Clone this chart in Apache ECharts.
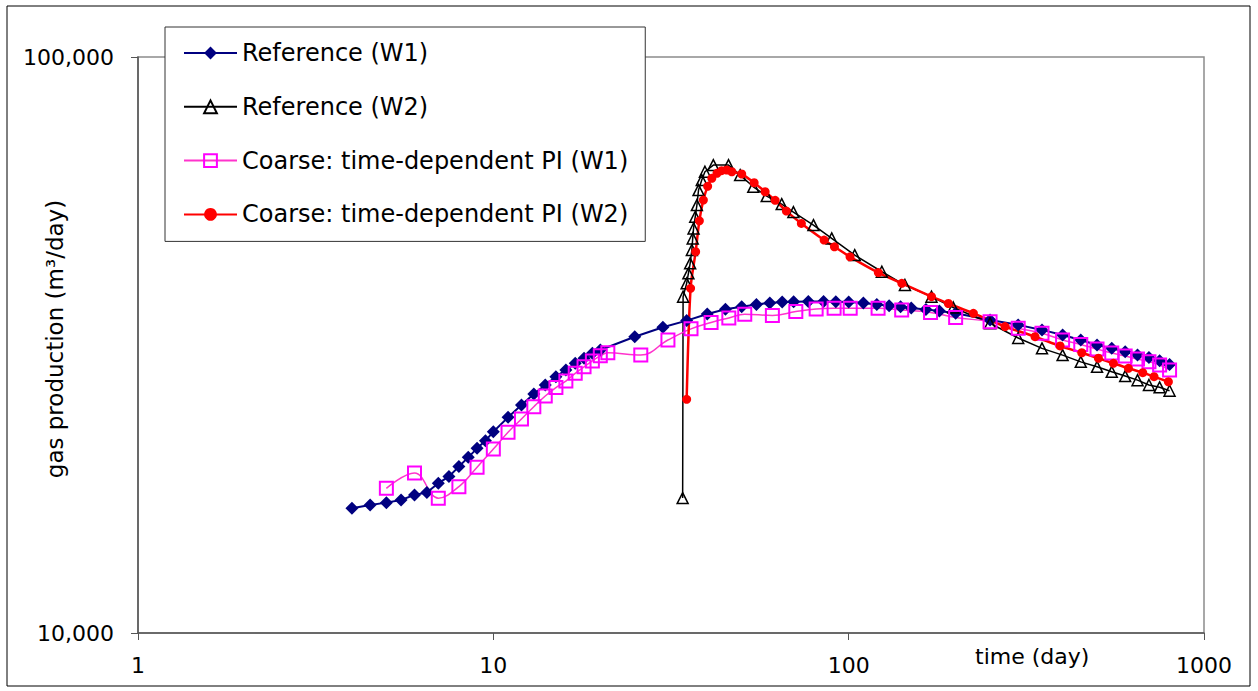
<!DOCTYPE html>
<html><head><meta charset="utf-8">
<script src="https://cdn.jsdelivr.net/npm/echarts@6/dist/echarts.min.js"></script>
<style>html,body{margin:0;padding:0;background:#fff}#c{width:1258px;height:691px}</style>
</head><body><div id="c"></div>
<script>
// ---- data (time in days, gas production in m3/day) ----
const seriesNames = ['Reference (W1)', 'Reference (W2)', 'Coarse: time-dependent PI (W1)', 'Coarse: time-dependent PI (W2)'];

const refW1Time = [4,4.5,5,5.5,6,6.5,7,7.5,8,8.5,9,9.5,10,11,12,13,14,15,16,17,18,19,20,25,30,35,40,45,50,55,60,65,70,77,85,92,100,110,120,130,140,150,165,180,200,250,300,350,400,450,500,550,600,650,700,750,800];
const refW1Gas  = [16460,16680,16840,17020,17370,17530,18200,18690,19450,20180,20920,21570,22350,23680,24870,26000,26950,27860,28620,29390,29990,30600,31000,32690,33950,34860,35800,36470,36850,37180,37410,37560,37600,37630,37630,37600,37560,37420,37180,37000,36850,36670,36450,36220,35900,34960,34270,33590,32920,32260,31620,31200,30780,30370,30090,29680,29260];

const refW2Time = [34.1,34.2,35.0,35.4,35.8,36.2,36.4,36.6,37.0,37.4,37.8,38.6,39.4,41.6,45.9,49.5,53.9,58.8,64.8,69.9,79.6,89.6,104,124,144,171,197,250,300,350,400,450,500,550,600,650,700,750,800];
const refW2Gas  = [17150,38360,40460,42110,43830,46230,48420,50400,52790,55320,58740,61140,63200,64910,64910,62370,59520,57360,55540,53800,51070,48420,45300,42380,40190,38360,36740,34500,32520,31200,30370,29560,28980,28410,27930,27480,26950,26700,26340];

const coarseW1Time = [5,6,7,8,9,10,11,12,13,14,15,16,17,18,19,20,21,26,31,36,41,46,51,61,71,81,91,101,121,141,170,200,250,300,350,400,450,500,550,600,650,700,750,800];
const coarseW1Gas  = [17830,18950,17140,17950,19400,20860,22310,23530,24710,25790,26670,27380,28240,28980,29670,30280,30650,30370,32260,33730,34610,35240,35760,35590,36140,36520,36620,36620,36620,36380,36020,35300,34720,33810,33140,32260,31690,31110,30620,30250,29890,29570,29190,28620];

const coarseW2Time = [35.0,35.9,37.1,38.0,39.0,40.1,41.2,42.6,43.9,45.4,46.9,50.0,54.2,58.2,62.1,66.8,73.6,85.3,91.2,100.9,121.2,141.1,171.1,190.8,224.4,275.5,334.6,393.6,452.9,504.5,555.9,612.8,672.5,723.5,793.9];
const coarseW2Gas  = [25450,39660,45920,51950,56450,59630,61570,62810,63470,63650,63210,62640,60490,58350,56390,54010,51420,48100,46830,44990,42240,40460,38360,37330,35890,34040,32690,31500,30660,29990,29390,28810,28310,27860,27300];

const xAxisTitle = 'time (day)';
const yAxisTitle = 'gas production (m³/day)';

// ---- chart ----
const FONT = 'DejaVu Sans';
const pair = (xs, ys) => xs.map((x, i) => [x, ys[i]]);
const fmtThousands = v => String(Math.round(v)).replace(/\B(?=(\d{3})+(?!\d))/g, ',');

const chart = echarts.init(document.getElementById('c'), null, {renderer: 'svg'});
chart.setOption({
  animation: false,
  backgroundColor: '#fff',
  grid: {left: 138, right: 54, top: 57, bottom: 58, containLabel: false, outerBoundsMode: 'none',
         show: true, borderColor: '#8c8c8c', borderWidth: 1.5, backgroundColor: 'transparent'},
  legend: {
    orient: 'vertical', left: 165, top: 27,
    backgroundColor: '#fff', borderColor: '#333', borderWidth: 1,
    padding: [14, 17, 15, 18],
    itemWidth: 53, itemHeight: 16, itemGap: 29.8,
    textStyle: {fontFamily: FONT, fontSize: 24, color: '#000'},
    data: seriesNames
  },
  xAxis: {
    type: 'log', logBase: 10, min: 1, max: 1000,
    axisLine: {show: true, onZero: false, lineStyle: {color: '#555', width: 1.5}},
    axisTick: {show: true, inside: false, length: 7, lineStyle: {color: '#555', width: 1}},
    minorTick: {show: false}, splitLine: {show: false},
    axisLabel: {fontFamily: FONT, fontSize: 22, color: '#000', margin: 21, formatter: v => String(Math.round(v))}
  },
  yAxis: {
    type: 'log', logBase: 10, min: 10000, max: 100000,
    axisLine: {show: true, onZero: false, lineStyle: {color: '#555', width: 1.5}},
    axisTick: {show: true, inside: false, length: 7, lineStyle: {color: '#555', width: 1}},
    minorTick: {show: false}, splitLine: {show: false},
    axisLabel: {fontFamily: FONT, fontSize: 22, color: '#000', margin: 24, formatter: fmtThousands}
  },
  graphic: [
    {type: 'text', left: 975, top: 645, style: {text: xAxisTitle, font: '22px "DejaVu Sans"', fill: '#000'}},
    {type: 'text', x: 55, y: 339, rotation: Math.PI / 2,
     style: {text: yAxisTitle, font: '23px "DejaVu Sans"', fill: '#000', align: 'center', verticalAlign: 'middle'}},
    {type: 'rect', shape: {x: 7, y: 6, width: 1243, height: 680}, style: {fill: 'none', stroke: '#000', lineWidth: 1}, silent: true, z: -1}
  ],
  series: [
    {name: seriesNames[0], type: 'line', data: pair(refW1Time, refW1Gas),
     symbol: 'diamond', symbolSize: 13,
     lineStyle: {color: '#000080', width: 2}, itemStyle: {color: '#000080'}},
    {name: seriesNames[1], type: 'line', data: pair(refW2Time, refW2Gas),
     symbol: 'triangle', symbolSize: 11,
     lineStyle: {color: '#000', width: 1.5}, itemStyle: {color: 'rgba(255,255,255,0)', borderColor: '#000', borderWidth: 1.5}},
    {name: seriesNames[2], type: 'line', data: pair(coarseW1Time, coarseW1Gas),
     symbol: 'rect', symbolSize: 13, smooth: 0.4,
     lineStyle: {color: '#ff33cc', width: 1.5}, itemStyle: {color: 'rgba(255,255,255,0)', borderColor: '#ff00ff', borderWidth: 2}},
    {name: seriesNames[3], type: 'line', data: pair(coarseW2Time, coarseW2Gas),
     symbol: 'circle', symbolSize: 9, smooth: 0.3,
     lineStyle: {color: '#ff0000', width: 2.5}, itemStyle: {color: '#ff0000'}}
  ]
});
</script></body></html>
